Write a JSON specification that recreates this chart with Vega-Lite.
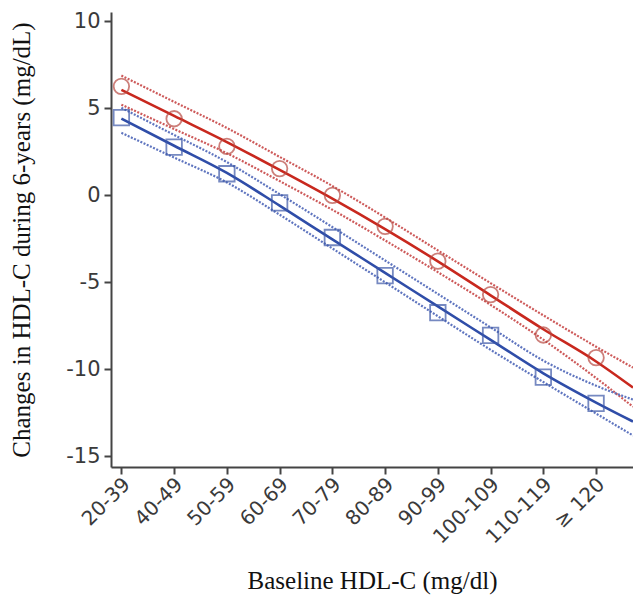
{
  "$schema": "https://vega.github.io/schema/vega-lite/v6.json",
  "width": 522,
  "height": 455,
  "autosize": {"type": "none"},
  "padding": {"left": 111, "top": 12, "right": 0, "bottom": 130},
  "background": "white",
  "config": {
    "view": {"stroke": null},
    "axis": {
      "domainColor": "#444",
      "domainWidth": 2,
      "tickColor": "#444",
      "tickWidth": 2,
      "tickSize": 7,
      "grid": false,
      "labelFont": "DejaVu Sans",
      "labelColor": "#3a3a3a",
      "labelOverlap": false,
      "titleFont": "Liberation Serif",
      "titleFontWeight": "normal",
      "titleColor": "#111"
    }
  },
  "datasets": {
    "points": [
      {"group": "Red", "i": 0, "value": 6.25},
      {"group": "Red", "i": 1, "value": 4.39},
      {"group": "Red", "i": 2, "value": 2.8},
      {"group": "Red", "i": 3, "value": 1.53},
      {"group": "Red", "i": 4, "value": -0.01},
      {"group": "Red", "i": 5, "value": -1.79},
      {"group": "Red", "i": 6, "value": -3.79},
      {"group": "Red", "i": 7, "value": -5.71},
      {"group": "Red", "i": 8, "value": -8.03},
      {"group": "Red", "i": 9, "value": -9.33},
      {"group": "Blue", "i": 0, "value": 4.45},
      {"group": "Blue", "i": 1, "value": 2.76},
      {"group": "Blue", "i": 2, "value": 1.23},
      {"group": "Blue", "i": 3, "value": -0.44},
      {"group": "Blue", "i": 4, "value": -2.43},
      {"group": "Blue", "i": 5, "value": -4.62},
      {"group": "Blue", "i": 6, "value": -6.75},
      {"group": "Blue", "i": 7, "value": -8.05},
      {"group": "Blue", "i": 8, "value": -10.45},
      {"group": "Blue", "i": 9, "value": -11.96}
    ],
    "curves": [
      {"group": "Red", "kind": "fit", "i": 0, "v": 6.05},
      {"group": "Red", "kind": "fit", "i": 1, "v": 4.55},
      {"group": "Red", "kind": "fit", "i": 2, "v": 3.05},
      {"group": "Red", "kind": "fit", "i": 3, "v": 1.45},
      {"group": "Red", "kind": "fit", "i": 4, "v": -0.2},
      {"group": "Red", "kind": "fit", "i": 5, "v": -1.95},
      {"group": "Red", "kind": "fit", "i": 6, "v": -3.8},
      {"group": "Red", "kind": "fit", "i": 7, "v": -5.75},
      {"group": "Red", "kind": "fit", "i": 8, "v": -7.7},
      {"group": "Red", "kind": "fit", "i": 9, "v": -9.55},
      {"group": "Red", "kind": "fit", "i": 9.7, "v": -11.05},
      {"group": "Red", "kind": "upper", "i": 0, "v": 6.87},
      {"group": "Red", "kind": "upper", "i": 1, "v": 5.36},
      {"group": "Red", "kind": "upper", "i": 2, "v": 3.86},
      {"group": "Red", "kind": "upper", "i": 3, "v": 2.2},
      {"group": "Red", "kind": "upper", "i": 4, "v": 0.53},
      {"group": "Red", "kind": "upper", "i": 5, "v": -1.28},
      {"group": "Red", "kind": "upper", "i": 6, "v": -3.17},
      {"group": "Red", "kind": "upper", "i": 7, "v": -5.05},
      {"group": "Red", "kind": "upper", "i": 8, "v": -6.9},
      {"group": "Red", "kind": "upper", "i": 9, "v": -8.7},
      {"group": "Red", "kind": "upper", "i": 9.7, "v": -9.9},
      {"group": "Red", "kind": "lower", "i": 0, "v": 5.2},
      {"group": "Red", "kind": "lower", "i": 1, "v": 3.8},
      {"group": "Red", "kind": "lower", "i": 2, "v": 2.41},
      {"group": "Red", "kind": "lower", "i": 3, "v": 0.81},
      {"group": "Red", "kind": "lower", "i": 4, "v": -0.84},
      {"group": "Red", "kind": "lower", "i": 5, "v": -2.6},
      {"group": "Red", "kind": "lower", "i": 6, "v": -4.42},
      {"group": "Red", "kind": "lower", "i": 7, "v": -6.3},
      {"group": "Red", "kind": "lower", "i": 8, "v": -8.3},
      {"group": "Red", "kind": "lower", "i": 9, "v": -10.5},
      {"group": "Red", "kind": "lower", "i": 9.7, "v": -12.15},
      {"group": "Blue", "kind": "fit", "i": 0, "v": 4.4},
      {"group": "Blue", "kind": "fit", "i": 1, "v": 2.84},
      {"group": "Blue", "kind": "fit", "i": 2, "v": 1.28},
      {"group": "Blue", "kind": "fit", "i": 3, "v": -0.6},
      {"group": "Blue", "kind": "fit", "i": 4, "v": -2.54},
      {"group": "Blue", "kind": "fit", "i": 5, "v": -4.46},
      {"group": "Blue", "kind": "fit", "i": 6, "v": -6.39},
      {"group": "Blue", "kind": "fit", "i": 7, "v": -8.31},
      {"group": "Blue", "kind": "fit", "i": 8, "v": -10.23},
      {"group": "Blue", "kind": "fit", "i": 9, "v": -11.91},
      {"group": "Blue", "kind": "fit", "i": 9.7, "v": -13.0},
      {"group": "Blue", "kind": "upper", "i": 0, "v": 5.02},
      {"group": "Blue", "kind": "upper", "i": 1, "v": 3.46},
      {"group": "Blue", "kind": "upper", "i": 2, "v": 1.9},
      {"group": "Blue", "kind": "upper", "i": 3, "v": 0.06},
      {"group": "Blue", "kind": "upper", "i": 4, "v": -1.83},
      {"group": "Blue", "kind": "upper", "i": 5, "v": -3.75},
      {"group": "Blue", "kind": "upper", "i": 6, "v": -5.67},
      {"group": "Blue", "kind": "upper", "i": 7, "v": -7.59},
      {"group": "Blue", "kind": "upper", "i": 8, "v": -9.5},
      {"group": "Blue", "kind": "upper", "i": 9, "v": -10.94},
      {"group": "Blue", "kind": "upper", "i": 9.7, "v": -11.74},
      {"group": "Blue", "kind": "lower", "i": 0, "v": 3.58},
      {"group": "Blue", "kind": "lower", "i": 1, "v": 2.16},
      {"group": "Blue", "kind": "lower", "i": 2, "v": 0.73},
      {"group": "Blue", "kind": "lower", "i": 3, "v": -1.12},
      {"group": "Blue", "kind": "lower", "i": 4, "v": -3.06},
      {"group": "Blue", "kind": "lower", "i": 5, "v": -5.0},
      {"group": "Blue", "kind": "lower", "i": 6, "v": -6.95},
      {"group": "Blue", "kind": "lower", "i": 7, "v": -8.88},
      {"group": "Blue", "kind": "lower", "i": 8, "v": -10.73},
      {"group": "Blue", "kind": "lower", "i": 9, "v": -12.54},
      {"group": "Blue", "kind": "lower", "i": 9.7, "v": -13.8}
    ]
  },
  "layer": [
    {
      "mark": {"type": "rule", "color": "#222", "strokeWidth": 1, "strokeDash": [3, 2]},
      "encoding": {"y": {"datum": 0, "type": "quantitative"}}
    },
    {
      "data": {"name": "curves"},
      "transform": [{"filter": "datum.kind !== 'fit'"}],
      "mark": {"type": "line", "strokeWidth": 2.2, "strokeDash": [2, 1.5], "interpolate": "monotone", "opacity": 0.9, "clip": true},
      "encoding": {
        "x": {"field": "i", "type": "quantitative"},
        "y": {"field": "v", "type": "quantitative"},
        "detail": {"field": "kind"},
        "color": {"field": "group", "type": "nominal", "scale": {"domain": ["Red", "Blue"], "range": ["#C84848", "#4E66B8"]}, "legend": null}
      }
    },
    {
      "data": {"name": "curves"},
      "transform": [{"filter": "datum.kind === 'fit'"}],
      "mark": {"type": "line", "strokeWidth": 2.6, "interpolate": "monotone", "clip": true},
      "encoding": {
        "x": {"field": "i", "type": "quantitative"},
        "y": {"field": "v", "type": "quantitative"},
        "color": {"field": "group", "type": "nominal", "scale": {"domain": ["Red", "Blue"], "range": ["#C8281E", "#2F4DA8"]}, "legend": null}
      }
    },
    {
      "data": {"name": "points"},
      "mark": {"type": "point", "filled": false, "size": 240, "strokeWidth": 1.8},
      "encoding": {
        "x": {
          "field": "i",
          "type": "quantitative",
          "scale": {"domain": [-0.197, 9.7], "nice": false, "zero": false},
          "axis": {
            "values": [0, 1, 2, 3, 4, 5, 6, 7, 8, 9],
            "labelExpr": "['20-39','40-49','50-59','60-69','70-79','80-89','90-99','100-109','110-119','\u2265 120'][datum.value]",
            "labelAngle": -45,
            "labelAlign": "right",
            "labelBaseline": "middle",
            "labelFontSize": 20,
            "labelPadding": 7,
            "labelOffset": 5,
            "title": "Baseline HDL-C (mg/dl)",
            "titleFontSize": 25,
            "titleBaseline": "alphabetic",
            "titleY": 121
          }
        },
        "y": {
          "field": "value",
          "type": "quantitative",
          "scale": {"domain": [-15.61, 10.52], "nice": false, "zero": false},
          "axis": {
            "values": [-15, -10, -5, 0, 5, 10],
            "labelExpr": "'' + datum.value",
            "labelFontSize": 21,
            "labelPadding": 4,
            "title": "Changes in HDL-C during 6-years (mg/dL)",
            "titleFontSize": 25,
            "titleX": -77
          }
        },
        "shape": {"field": "group", "type": "nominal", "scale": {"domain": ["Red", "Blue"], "range": ["circle", "square"]}, "legend": null},
        "color": {"field": "group", "type": "nominal", "scale": {"domain": ["Red", "Blue"], "range": ["#B84A42", "#3D58A8"]}, "legend": null}
      }
    }
  ],
  "resolve": {"scale": {"color": "independent"}}
}
